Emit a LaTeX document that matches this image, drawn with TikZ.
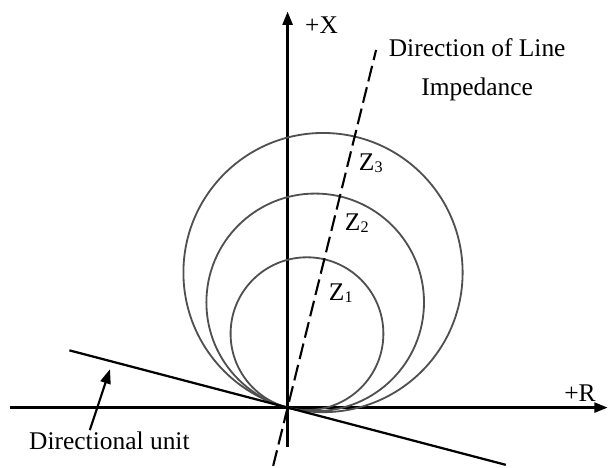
\documentclass[tikz,border=0pt]{standalone}
\usepackage{fontspec}
\setmainfont{Liberation Serif}
\usepackage{tikz}
\usetikzlibrary{arrows.meta,calc}
\usepackage{xcolor}
\definecolor{zonegray}{RGB}{80,80,80}
% subscript digit of a zone label
\newcommand{\zsub}[1]{\raisebox{-0.8pt}{\fontsize{11.5}{12}\selectfont#1}}

\begin{document}
\begin{tikzpicture}[
  % Axes of the R-X plane, filled triangle tips
  axis/.style={draw=black,line width=1.6pt,-{Triangle[length=0.33cm,width=0.25cm]}},
  % Mho circles (grey)
  zone/.style={draw=zonegray,line width=1.3pt},
  % Line impedance direction
  imp/.style={draw=black,line width=1.5pt,dash pattern=on 0.4cm off 0.15cm},
  dirline/.style={draw=black,line width=1.6pt},
  ptr/.style={-{Triangle[length=0.36cm,width=0.26cm]},draw=black,line width=1.5pt},
  lbl/.style={font=\fontsize{18.1}{22}\selectfont,inner sep=1pt},
  twoline/.style={font=\fontsize{18.1}{28}\selectfont,inner sep=1pt,align=center}
]
  \useasboundingbox (-7.19,-1.51) rectangle (8.01,10.19);

  % ---- Axes ----
  \coordinate (O)  at (0,0);
  \coordinate (rl) at (-6.94,0);
  \coordinate (rr) at (8.0,0);
  \coordinate (xb) at (0,-0.98);
  \coordinate (xt) at (0,9.9);
  \draw[axis] (rl) -- (rr);
  \draw[axis] (xb) -- (xt);
  \node[lbl] (xlab) at (0.85,9.57) {+X};
  \node[lbl] (rlab) at (7.31,0.37) {+R};

  % ---- Zones 1..3, all through the origin ----
  \foreach \r in {1.91,2.72,3.49}
    \draw[zone] (75.3:\r) circle (\r);
  \node[lbl] (z1) at (1.33,2.86) {Z\zsub{1}};
  \node[lbl] (z2) at (1.73,4.61) {Z\zsub{2}};
  \node[lbl] (z3) at (2.08,6.11) {Z\zsub{3}};

  % ---- Line impedance (dashed) ----
  \coordinate (ib) at (256.1:1.5);
  \coordinate (it) at (76.1:9.21);
  \draw[imp] (ib) -- (it);
  \node[twoline] (implab) at (4.74,8.45) {Direction of Line\\Impedance};

  % ---- Directional unit ----
  \coordinate (dl) at (165.3:5.64);
  \coordinate (dr) at (-14.7:5.64);
  \draw[dirline] (dl) -- (dr);
  \node[lbl] (dirlab) at (-4.455,-0.83) {Directional unit};
  \coordinate (dtip) at (-4.44,0.96);
  \draw[ptr] ([xshift=-0.49cm]dirlab.north) -- (dtip);
\end{tikzpicture}
\end{document}
